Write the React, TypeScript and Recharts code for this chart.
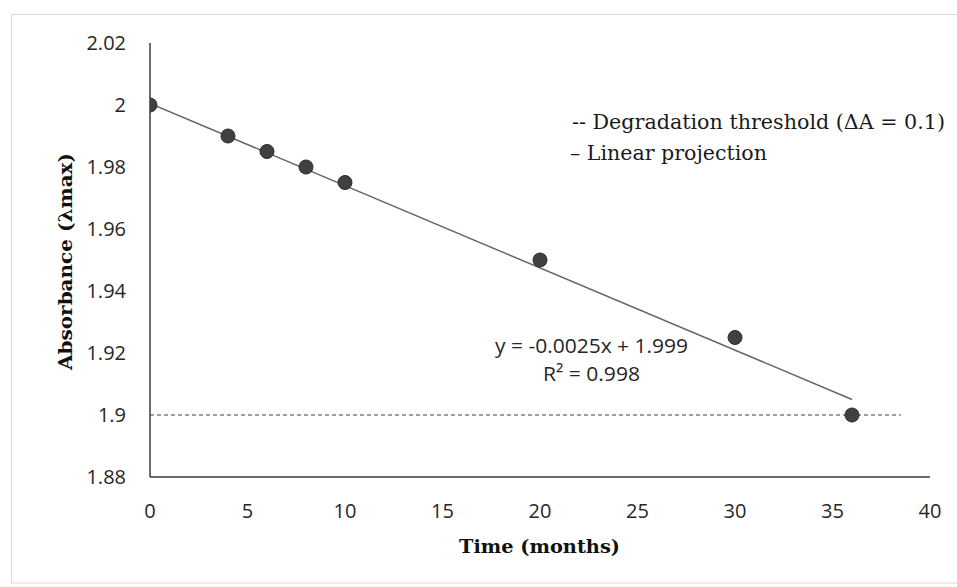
import React from "react";
import { ComposedChart, Line, Scatter, XAxis, YAxis, ReferenceLine } from "recharts";

const months = [0, 4, 6, 8, 10, 20, 30, 36];
const absorbance = [2.0, 1.99, 1.985, 1.98, 1.975, 1.95, 1.925, 1.9];
const trendX = [0, 36];
const trendY = [2.0005, 1.905];
const thresholdValue = 1.9;
const thresholdStart = 0;
const thresholdEnd = 38.5;
const xTicks = [0, 5, 10, 15, 20, 25, 30, 35, 40];
const yTicks = [1.88, 1.9, 1.92, 1.94, 1.96, 1.98, 2.0, 2.02];
const equationText = "y = -0.0025x + 1.999";
const r2Text = "R\u00B2 = 0.998";
const legendLines = ["-- Degradation threshold (\u0394A = 0.1)", "\u2013 Linear projection"];
const xTitle = "Time (months)";
const yTitle = "Absorbance (\u03BBmax)";

const points = months.map((m, i) => ({ x: m, y: absorbance[i] }));
const trend = trendX.map((m, i) => ({ x: m, y: trendY[i] }));

const W = 957;
const H = 587;
const sans = "'Open Sans', sans-serif";
const serif = "'DejaVu Serif', serif";

const Dot = (p: any) => (
  <circle cx={p.cx} cy={p.cy} r={7} fill="#404040" stroke="#2a2a2a" strokeWidth={1} />
);

const XTick = (p: any) => (
  <text x={p.x} y={p.y} textAnchor="middle" dy={17} fontFamily={sans} fontSize={20} fill="#262626">
    {String(p.payload.value)}
  </text>
);

const YTick = (p: any) => (
  <text x={p.x} y={p.y} textAnchor="end" dy={7} fontFamily={sans} fontSize={20} fill="#262626">
    {String(p.payload.value)}
  </text>
);

export default function App() {
  return (
    <div style={{ position: "absolute", left: 0, top: 0, width: W, height: H, background: "#fff" }}>
      <ComposedChart
        width={W}
        height={H}
        margin={{ top: 43, right: 27, bottom: 80, left: 0 }}
      >
        <XAxis
          type="number"
          dataKey="x"
          domain={[0, 40]}
          ticks={xTicks}
          height={30}
          tickSize={0}
          tickMargin={24}
          tickLine={false}
          stroke="#3a3a3a"
          strokeWidth={1.5}
          tick={XTick}
          allowDataOverflow
        />
        <YAxis
          type="number"
          dataKey="y"
          domain={[1.88, 2.02]}
          ticks={yTicks}
          width={150}
          tickSize={0}
          tickMargin={24}
          tickLine={false}
          stroke="#3a3a3a"
          strokeWidth={1.5}
          tick={YTick}
          allowDataOverflow
        />
        <ReferenceLine
          segment={[
            { x: thresholdStart, y: thresholdValue },
            { x: thresholdEnd, y: thresholdValue },
          ]}
          stroke="#404040"
          strokeWidth={1}
          strokeDasharray="4 3"
        />
        <Line
          data={trend}
          dataKey="y"
          type="linear"
          stroke="#666666"
          strokeWidth={1.5}
          dot={false}
          activeDot={false}
          isAnimationActive={false}
        />
        <Scatter data={points} dataKey="y" shape={Dot} isAnimationActive={false} />
      </ComposedChart>
      <svg
        width={W}
        height={H}
        style={{ position: "absolute", left: 0, top: 0, pointerEvents: "none" }}
      >
        <rect x={11.5} y={14.5} width={960} height={568.5} fill="none" stroke="#d9d9d9" strokeWidth={1} />
        <text x={572} y={129} fontFamily={serif} fontSize={20} fill="#1a1a1a" textLength={373} lengthAdjust="spacingAndGlyphs">
          {legendLines[0]}
        </text>
        <text x={570} y={160} fontFamily={serif} fontSize={20} fill="#1a1a1a" textLength={197} lengthAdjust="spacingAndGlyphs">
          {legendLines[1]}
        </text>
        <text x={495} y={353} fontFamily={sans} fontSize={20} fill="#262626" textLength={193} lengthAdjust="spacingAndGlyphs">
          {equationText}
        </text>
        <text x={543} y={381} fontFamily={sans} fontSize={20} fill="#262626" textLength={97} lengthAdjust="spacingAndGlyphs">
          {r2Text}
        </text>
        <text x={459} y={553} fontFamily={serif} fontWeight="bold" fontSize={18} fill="#111" textLength={161} lengthAdjust="spacingAndGlyphs">
          {xTitle}
        </text>
        <text
          x={0}
          y={0}
          transform="translate(72,370) rotate(-90)"
          fontFamily={serif}
          fontWeight="bold"
          fontSize={18}
          fill="#111"
          textLength={217}
          lengthAdjust="spacingAndGlyphs"
        >
          {yTitle}
        </text>
      </svg>
    </div>
  );
}
